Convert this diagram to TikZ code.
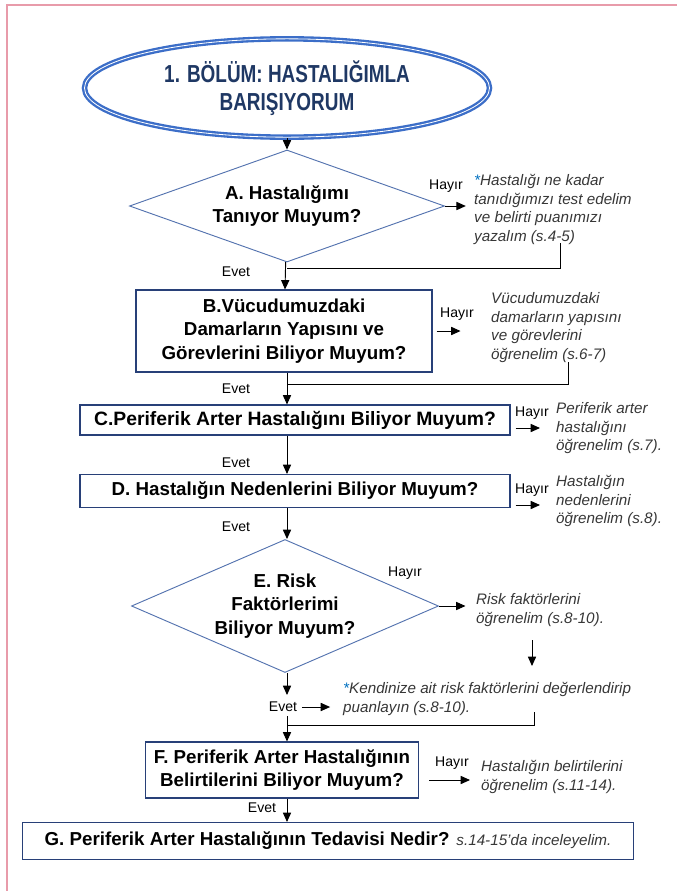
\documentclass[tikz,border=0pt]{standalone}
\usepackage{fontspec}
\setmainfont{Liberation Sans}
\newfontfamily\titlefont[FakeStretch=0.77]{Liberation Sans}
\usetikzlibrary{shapes, arrows.meta, positioning, calc}

\definecolor{boxblue}{RGB}{40,64,120}
\definecolor{diamblue}{RGB}{84,115,175}
\definecolor{ovalblue}{RGB}{60,110,200}
\definecolor{titlenavy}{RGB}{31,56,100}
\definecolor{notegray}{RGB}{55,55,55}
\definecolor{starblue}{RGB}{0,112,192}
\definecolor{framepink}{RGB}{232,155,170}

\tikzset{
  qbox/.style={rectangle, draw=boxblue, line width=0.9pt, align=center, inner sep=1pt, font=\fontsize{16}{20}\selectfont\bfseries},
  qdiamond/.style={diamond, draw=diamblue, line width=0.8pt, align=center, inner sep=0pt, font=\fontsize{16}{20}\selectfont\bfseries},
  note/.style={anchor=north west, align=left, inner sep=0pt, text=notegray, font=\fontsize{13}{16}\selectfont\itshape},
  answer/.style={inner sep=0pt, font=\fontsize{12}{14}\selectfont},
  flow/.style={-{Triangle[length=8pt, width=7pt]}, line width=0.8pt},
}

\begin{document}
\begin{tikzpicture}[x=0.03cm, y=-0.03cm]
  \useasboundingbox (0,0) rectangle (677,891);
  \draw[framepink, line width=1.2pt] (7,891) -- (7,5) -- (677,5);

  % Nodes
  \node[ellipse, draw=ovalblue, line width=2pt, double=white, double distance=0.7pt,
        minimum width=12.15cm, minimum height=2.95cm, text=titlenavy,
        font=\titlefont\fontsize{21}{24}\selectfont\bfseries, align=center] (title) at (287,88)
        {1. BÖLÜM: HASTALIĞIMLA\\BARIŞIYORUM};
  \node[qdiamond, aspect=2.8, minimum width=9.45cm, minimum height=3.36cm] (A) at (287,206)
        {A. Hastalığımı\\Tanıyor Muyum?};
  \node[qbox, minimum width=8.88cm, minimum height=2.46cm] (B) at (284,331)
        {B.Vücudumuzdaki\\Damarların Yapısını ve\\Görevlerini Biliyor Muyum?};
  \node[qbox, minimum width=12.9cm, minimum height=0.9cm, font=\fontsize{16.5}{20}\selectfont\bfseries] (C) at (295,420)
        {C.Periferik Arter Hastalığını Biliyor Muyum?};
  \node[qbox, minimum width=12.9cm, minimum height=0.99cm] (D) at (295,491)
        {D. Hastalığın Nedenlerini Biliyor Muyum?};
  \node[qdiamond, aspect=2.3, minimum width=9.21cm, minimum height=3.99cm] (E) at (285,606)
        {E. Risk\\Faktörlerimi\\Biliyor Muyum?};
  \node[qbox, minimum width=8.19cm, minimum height=1.68cm] (F) at (282,770)
        {F. Periferik Arter Hastalığının\\Belirtilerini Biliyor Muyum?};
  \node[qbox, minimum width=18.33cm, minimum height=1.11cm] (G) at (328,841)
        {G. Periferik Arter Hastalığının Tedavisi Nedir? {\mdseries\itshape\color{notegray}\fontsize{13}{15}\selectfont s.14-15'da inceleyelim.}};

  % side notes
  \node[note] (noteA) at (474,174) {{\color{starblue}*}Hastalığı ne kadar\\tanıdığımızı test edelim\\ve belirti puanımızı\\yazalım (s.4-5)};
  \node[note] (noteB) at (491,292) {Vücudumuzdaki\\damarların yapısını\\ve görevlerini\\öğrenelim (s.6-7)};
  \node[note] (noteC) at (556,402) {Periferik arter\\hastalığını\\öğrenelim (s.7).};
  \node[note] (noteD) at (556,475) {Hastalığın\\nedenlerini\\öğrenelim (s.8).};
  \node[note] (noteE) at (476,593) {Risk faktörlerini\\öğrenelim (s.8-10).};
  \node[note] (noteK) at (343,682) {{\color{starblue}*}Kendinize ait risk faktörlerini değerlendirip\\puanlayın (s.8-10).};
  \node[note] (noteF) at (481,760) {Hastalığın belirtilerini\\öğrenelim (s.11-14).};

  % answers
  \node[answer] (hayirA) at (446,186) {Hayır};
  \node[answer] (evetA) at (236,272) {Evet};
  \node[answer] (hayirB) at (457,314) {Hayır};
  \node[answer] (evetB) at (236,389) {Evet};
  \node[answer] (hayirC) at (532,413) {Hayır};
  \node[answer] (evetC) at (236,463) {Evet};
  \node[answer] (hayirD) at (532,490) {Hayır};
  \node[answer] (evetD) at (236,527) {Evet};
  \node[answer] (hayirE) at (405,573) {Hayır};
  \node[answer] (evetE) at (283,707) {Evet};
  \node[answer] (hayirF) at (452,763) {Hayır};
  \node[answer] (evetF) at (262,808) {Evet};

  % join points
  \coordinate (jA) at (287,268);
  \coordinate (rA) at (560,243);
  \coordinate (jB) at (287,384);
  \coordinate (rB) at (568,362);
  \coordinate (eEnd) at (287,695);
  \coordinate (eGo) at (287,716);
  \coordinate (jK) at (287,725);
  \coordinate (rK) at (534,712);
  \coordinate (dTop) at (532,640);
  \coordinate (dEnd) at (532,666);
  \coordinate (aC) at (540,428);
  \coordinate (aD) at (540,505);
  \coordinate (aF) at (470,780);

  % Edges
  % title to A
  \draw[flow] (title) -- (A);

  % A to B, Hayir branch back in
  \draw[flow] (A) -- (B);
  \draw[flow] (A.east) -- ([xshift=-7]A.east -| noteA.west);
  \draw (rA) |- (jA);

  % B to C
  \draw[flow] (B.south -| A.south) -- (C.north -| A.south);
  \draw[flow] (B.east) ++(4,0) -- ++(24,0);
  \draw (rB) |- (jB);

  % C to D
  \draw[flow] (C.south -| A.south) -- (D.north -| A.south);
  \draw[flow] (C.east |- aC) ++(5,0) -- (aC);

  % D to E
  \draw[flow] (D.south -| A.south) -- (E.north -| A.south);
  \draw[flow] (D.east |- aD) ++(5,0) -- (aD);

  % E Hayir
  \draw[flow] (E.east) -- ([xshift=-9]E.east -| noteE.west);
  \draw[flow] (dTop) -- (dEnd);

  % E Evet
  \draw[flow] (E.south -| A.south) -- (eEnd);
  \draw[flow] ([xshift=4]evetE.east) -- ([xshift=-11]evetE.east -| noteK.west);
  \draw[flow] (eGo) -- (F.north -| A.south);
  \draw (rK) |- (jK);

  % F to G
  \draw[flow] (F.south -| A.south) -- (G.north -| A.south);
  \draw[flow] (F.east |- aF) ++(10,0) -- (aF);

\end{tikzpicture}
\end{document}
